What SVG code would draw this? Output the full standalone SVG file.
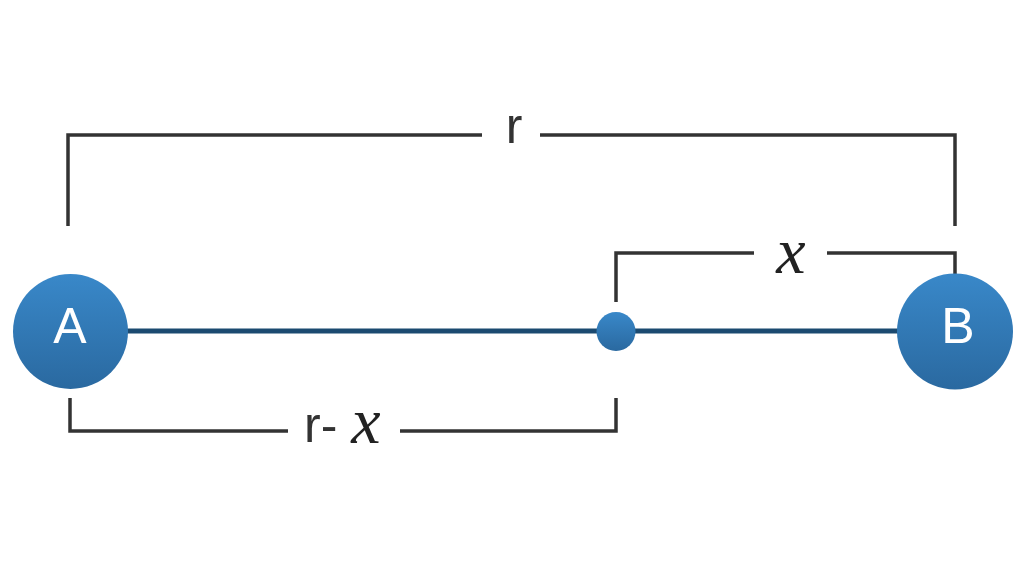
<svg xmlns="http://www.w3.org/2000/svg" width="1022" height="575" viewBox="0 0 1022 575">
<defs>
<linearGradient id="g" x1="0" y1="0" x2="0" y2="1">
<stop offset="0" stop-color="#3988c9"/>
<stop offset="1" stop-color="#2a69a0"/>
</linearGradient>
<style>
.br{fill:none;stroke:#333333;stroke-width:3.5;stroke-linecap:butt}
.ln{fill:none;stroke:#1b4a70;stroke-width:5}
.lbl{font-family:"Liberation Sans",Arial,sans-serif;font-size:50px;fill:#333333}
.mi{font-family:"Liberation Serif","Times New Roman",serif;font-style:italic;font-size:66px;fill:#222222}
.nt{font-family:"Liberation Sans",Arial,sans-serif;font-size:50px;fill:#ffffff;text-anchor:middle}
</style>
</defs>
<rect width="1022" height="575" fill="#ffffff"/>
<g id="connectors">
<line class="ln" x1="70" y1="331" x2="955" y2="331"/>
<polyline class="br" points="68,226 68,135 482,135"/>
<polyline class="br" points="540,135 955,135 955,226"/>
<polyline class="br" points="616,302 616,253 754,253"/>
<polyline class="br" points="827,253 955,253 955,274"/>
<polyline class="br" points="70,398 70,431 288,431"/>
<polyline class="br" points="400,431 616,431 616,398"/>
</g>
<g id="label-r"><text class="lbl" x="514" y="143" text-anchor="middle">r</text></g>
<g id="label-x"><text class="mi" x="791" y="273" text-anchor="middle">x</text></g>
<g id="label-rx"><text class="lbl" x="304" y="442">r-</text><text class="mi" x="366" y="443" text-anchor="middle">x</text></g>
<g id="node-A"><circle cx="70.5" cy="331.5" r="57.5" fill="url(#g)"/><text class="nt" x="70" y="343">A</text></g>
<g id="node-B"><circle cx="955" cy="331.5" r="58" fill="url(#g)"/><text class="nt" x="958" y="343">B</text></g>
<g id="node-mid"><circle cx="616" cy="331.5" r="19.5" fill="url(#g)"/></g>
</svg>
